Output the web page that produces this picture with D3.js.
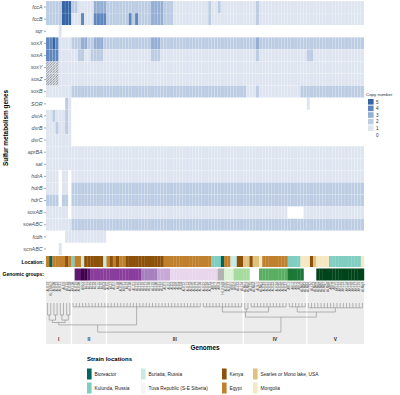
<!DOCTYPE html>
<html>
<head>
<meta charset="utf-8">
<script src="https://cdn.jsdelivr.net/npm/d3@7"></script>
<style>
body { margin: 0; background: #fff; }
svg { font-family: "Liberation Sans", Arial, sans-serif; }
</style>
</head>
<body>
<div id="chart"></div>
<script>
// genes on the y axis, top to bottom
var genes = ["fccA","fccB","sqr","soxX","soxA","soxY","soxZ","soxB","SOR","dsrA","dsrB",
  "dsrC","aprBA","sat","hdrA","hdrB","hdrC","soxAB","soeABC","fcdh","scnABC"];

// copy numbers, run-length [count, value], read left to right over the 100 genomes
var copyRuns = [
  [[5,2],[3,5],[2,2],[5,1],[4,3],[14,2],[4,3],[3,2],[11,1],[1,2],[2,1],[1,2],[11,1],[1,2],[33,1]],
  [[5,2],[3,5],[3,1],[1,4],[3,1],[4,4],[7,2],[1,4],[1,2],[1,4],[4,2],[4,3],[3,2],[11,1],[1,2],[14,1],[1,2],[33,1]],
  [[4,0],[1,1],[95,0]],
  [[2,4],[1,5],[1,4],[4,1],[3,2],[2,3],[2,2],[3,3],[15,2],[3,3],[30,2],[1,3],[33,2]],
  [[4,4],[6,1],[2,2],[2,1],[4,2],[15,1],[3,2],[30,1],[1,2],[15,1],[2,2],[16,1]],
  [[100,1]],
  [[100,1]],
  [[8,1],[55,2],[3,1],[1,2],[13,1],[20,2]],
  [[6,0],[1,2],[1,1],[74,0],[1,1],[17,0]],
  [[2,1],[1,2],[3,1],[1,2],[1,1],[92,0]],
  [[3,1],[1,2],[2,1],[1,2],[1,1],[92,0]],
  [[8,1],[92,0]],
  [[100,1]],
  [[100,1]],
  [[4,1],[1,0],[2,1],[1,0],[92,1]],
  [[4,1],[1,0],[2,1],[1,0],[92,2]],
  [[4,2],[1,0],[2,2],[1,0],[92,2]],
  [[7,1],[1,0],[68,1],[5,0],[19,1]],
  [[8,1],[92,2]],
  [[6,0],[13,1],[81,0]],
  [[4,0],[1,1],[95,0]]
];

// fused sox genes drawn hatched
var hatchGenes = ["soxY","soxZ"];
var hatchCols = [0,1,2,3];

var copyLevels = [5,4,3,2,1,0];
var copyColors = ["#3464a4","#5f87bd","#94afd3","#bccce3","#dfe5f0","#ffffff"];

var genomes = ["ALE19","HL-EbGr7","ALE20","ALE23","ALE21","ALE9","ALJ15","ALE28","AKL10","ALE16",
  "ALE30","ARh3","ALJ1","ALJ2","ALJ3","ALJ4","ALJ5","ALJ6","ARh4","ALE6",
  "ALJ7","ALE7","ALJ8","ALE10","ALE11","ALJ9","ALJ10","ALJ11","ALJ12","ALJ13",
  "ALJ16","ALJ17","ALJ18","ALJ19","ALJ20","ALJ21","ALJ22","ALE1","ALE2","ALE3",
  "ALE4","ALE5","ALE8","ALE12","ALE13","ALE14","ALE15","ALE17","ALE18","ALE22",
  "ALE24","ALE25","AKL6","AKL7","AKL8","HL-Eb18","ALE26","ALE27","ARh1","ARh2",
  "ALJ23","ALJ24","ALMo1","ALMo2","ALJ25","ALMo3","ALSr1","ALMg1","ALE29","ALE31",
  "ALE32","ALE33","ALE34","ALE35","ALE36","ALE37","AKL1","AKL2","AKL3","AKL4",
  "ALMg2","ALMg3","ALMg4","ALJ26","ALMo4","ALMg5","ALMg6","ALMg7","ALMg8","AKL5",
  "AKL9","AKL11","AKL12","AKL13","AKL14","AKL15","AKL16","AKL17","AKL19","ALMg9"];

// strain location of each genome
var locationCodes = ("EBEEEENEKE" + "EUNNNNNNUE" + "NENEENNNNN" + "NNNNNNNEEE" + "EEEEEEEEEE" +
  "EEKKKBEEUU" + "NNSSNSSMEE" + "EEEEEEKKKK" + "MMMNSMMMMK" + "KKKKKKKKKM").split("");
var locationKeys = ["B","K","U","T","N","E","S","M"];
var locationNames = ["Bioreactor","Kulunda, Russia","Buriatia, Russia","Tuva Republic (S-E Siberia)",
  "Kenya","Egypt","Searles or Mono lake, USA","Mongolia"];
var locationColors = ["#01665e","#80cdc1","#c7eae5","#f5f5f5","#8c510a","#bf812d","#dfc27d","#f6e8c3"];

// genomic group shade of each genome ("." = none)
var groupCodes = (".........b" + "baabcccccc" + "cccccccccc" + "dddddeeeef" + "ffffffffff" +
  "ffffgghhhi" + "iiii...jjj" + "jjjjjjkkkk" + "k....lllll" + "llllllllll").split("");
var groupShades = {a:"#40004b", b:"#5e1a70", c:"#8a3d9c", d:"#a680bd", e:"#c6a9d6", f:"#e8d6ec",
  g:"#b3b3b3", h:"#d9f0d3", i:"#a6dba0", j:"#5aae61", k:"#1b7837", l:"#00441b"};

// clade panels: first column of each clade
var cladeNames = ["I","II","III","IV","V"];
var cladeStarts = [0,8,19,62,82];

// dendrogram: leaves are genome columns, h is merge height
var tree = {h:0.97, c:[
  {h:0.73, c:[
    {h:0.65, c:[
      {h:0.57, c:[{h:0.4, c:[0,1]}, {h:0.4, c:[2,3]}]},
      {h:0.57, c:[{h:0.4, c:[4,5]}, {h:0.4, c:[6,7]}]}]},
    {h:0.13, c:d3.range(8,49)}]},
  {h:0.47, c:[
    {h:0.3, c:[{h:0.13, c:d3.range(49,62)}, {h:0.2, c:[62,63]}, {h:0.13, c:d3.range(64,76)}]},
    {h:0.3, c:[{h:0.13, c:d3.range(76,82)}, {h:0.16, c:d3.range(82,100)}]}]}
]};

var width = 400, height = 395;
var svg = d3.select("#chart").append("svg")
  .attr("width", width).attr("height", height);

var x = d3.scaleBand().domain(d3.range(genomes.length)).range([46, 364]);
var y = d3.scaleBand().domain(genes).range([1, 255]);
var color = d3.scaleOrdinal().domain(copyLevels).range(copyColors);
var locColor = d3.scaleOrdinal().domain(locationKeys).range(locationColors);

var defs = svg.append("defs");
var pat = defs.append("pattern").attr("id", "hatch")
  .attr("patternUnits", "userSpaceOnUse").attr("width", 1.8).attr("height", 1.8)
  .attr("patternTransform", "rotate(45)");
pat.append("rect").attr("width", 1.8).attr("height", 1.8).attr("fill", color(1));
pat.append("line").attr("x1", 0).attr("y1", 0).attr("x2", 0).attr("y2", 1.8)
  .attr("stroke", "#222").attr("stroke-width", 0.7);

// heatmap
var cells = [];
genes.forEach(function(g, i) {
  var col = 0;
  copyRuns[i].forEach(function(r) {
    for (var k = 0; k < r[0]; k++) { cells.push({gene: g, col: col, v: r[1]}); col++; }
  });
});

svg.append("g").selectAll("rect").data(cells).enter().append("rect")
  .attr("x", function(d) { return x(d.col); })
  .attr("y", function(d) { return y(d.gene); })
  .attr("width", x.bandwidth())
  .attr("height", y.bandwidth())
  .attr("fill", function(d) {
    if (hatchGenes.indexOf(d.gene) >= 0 && hatchCols.indexOf(d.col) >= 0) return "url(#hatch)";
    return color(d.v);
  })
  .attr("stroke", "#fff").attr("stroke-opacity", 0.35).attr("stroke-width", 0.3);

// gene axis
var yAxis = svg.append("g").attr("transform", "translate(46,0)")
  .call(d3.axisLeft(y).tickSize(2).tickPadding(1.5));
yAxis.select(".domain").remove();
yAxis.selectAll("line").attr("stroke", "#555").attr("stroke-width", 0.5);
yAxis.selectAll("text").attr("font-size", 5.3).attr("font-style", "italic")
  .attr("fill", "#4d4d4d").attr("font-family", "Liberation Sans, Arial, sans-serif");

svg.append("text").attr("transform", "translate(8,128) rotate(-90)")
  .attr("text-anchor", "middle").attr("font-size", 6.4).attr("font-weight", "bold")
  .text("Sulfur metabolism genes");

// location and genomic group rows
svg.append("g").selectAll("rect").data(locationCodes).enter().append("rect")
  .attr("x", function(d, i) { return x(i); }).attr("y", 256)
  .attr("width", x.bandwidth() + 0.2).attr("height", 11)
  .attr("fill", function(d) { return locColor(d); });

svg.append("g").selectAll("rect").data(groupCodes.map(function(c, i) { return {c: c, i: i}; })
    .filter(function(d) { return d.c !== "."; }))
  .enter().append("rect")
  .attr("x", function(d) { return x(d.i); }).attr("y", 268.5)
  .attr("width", x.bandwidth() + 0.2).attr("height", 12)
  .attr("fill", function(d) { return groupShades[d.c]; });

svg.append("text").attr("x", 44).attr("y", 263.5).attr("text-anchor", "end")
  .attr("font-size", 5).attr("font-weight", "bold").text("Location:");
svg.append("text").attr("x", 44).attr("y", 276).attr("text-anchor", "end")
  .attr("font-size", 5).attr("font-weight", "bold").text("Genomic groups:");

// clade panels
var cladeEnds = cladeStarts.slice(1).concat([genomes.length]);
var panelTop = 281, panelBottom = 344;
svg.append("g").selectAll("rect").data(cladeNames).enter().append("rect")
  .attr("x", function(d, i) { return x(cladeStarts[i]) + (i ? 0.7 : 0); })
  .attr("y", panelTop)
  .attr("width", function(d, i) {
    var x1 = cladeEnds[i] < genomes.length ? x(cladeEnds[i]) - 0.7 : x.range()[1];
    return x1 - x(cladeStarts[i]) - (i ? 0.7 : 0);
  })
  .attr("height", panelBottom - panelTop)
  .attr("fill", "#ececec");

svg.append("g").selectAll("text").data(cladeNames).enter().append("text")
  .attr("x", function(d, i) {
    var x1 = cladeEnds[i] < genomes.length ? x(cladeEnds[i]) : x.range()[1];
    return (x(cladeStarts[i]) + x1) / 2;
  })
  .attr("y", 341).attr("text-anchor", "middle")
  .attr("font-size", 4.8).attr("font-weight", "bold").attr("fill", "#333")
  .text(function(d) { return d; });

// genome labels
svg.append("g").selectAll("text").data(genomes).enter().append("text")
  .attr("transform", function(d, i) {
    return "translate(" + (x(i) + x.bandwidth() / 2 + 1.1) + ",282) rotate(-90)";
  })
  .attr("text-anchor", "end").attr("font-size", 3.2).attr("fill", "#4d4d4d")
  .text(function(d) { return d; });

// dendrogram
var hy = d3.scaleLinear().domain([0, 1]).range([303, 333]);
var links = [];
function place(node) {
  if (typeof node === "number") return {x: x(node) + x.bandwidth() / 2, h: 0};
  var kids = node.c.map(place);
  var nx = (kids[0].x + kids[kids.length - 1].x) / 2;
  links.push([kids[0].x, hy(node.h), kids[kids.length - 1].x, hy(node.h)]);
  kids.forEach(function(k) { links.push([k.x, hy(k.h), k.x, hy(node.h)]); });
  return {x: nx, h: node.h};
}
place(tree);
svg.append("g").selectAll("line").data(links).enter().append("line")
  .attr("x1", function(d) { return d[0]; }).attr("y1", function(d) { return d[1]; })
  .attr("x2", function(d) { return d[2]; }).attr("y2", function(d) { return d[3]; })
  .attr("stroke", "#8a8a8a").attr("stroke-width", 0.6);

svg.append("text").attr("x", 205).attr("y", 350).attr("text-anchor", "middle")
  .attr("font-size", 6.4).attr("font-weight", "bold").text("Genomes");

// copy number legend
var cl = svg.append("g").attr("transform", "translate(366,96)");
cl.append("text").attr("x", 0).attr("y", 0).attr("font-size", 4.4).attr("fill", "#333")
  .text("Copy number");
cl.selectAll("rect").data(copyLevels).enter().append("rect")
  .attr("x", 2).attr("y", function(d, i) { return 3 + i * 6.6; })
  .attr("width", 5.6).attr("height", 5.6)
  .attr("fill", function(d) { return color(d); });
cl.selectAll("text.k").data(copyLevels).enter().append("text").attr("class", "k")
  .attr("x", 10).attr("y", function(d, i) { return 7.6 + i * 6.6; })
  .attr("font-size", 4.6).attr("fill", "#333").text(function(d) { return d; });

// strain location legend
var lg = svg.append("g");
lg.append("text").attr("x", 87).attr("y", 361).attr("font-size", 6)
  .attr("font-weight", "bold").text("Strain locations");
var legCols = [87, 141, 222, 253];
var item = lg.selectAll("g.item").data(locationNames).enter().append("g").attr("class", "item")
  .attr("transform", function(d, i) {
    return "translate(" + legCols[Math.floor(i / 2)] + "," + (368.5 + (i % 2) * 14) + ")";
  });
item.append("rect").attr("width", 4.6).attr("height", 11)
  .attr("fill", function(d, i) { return locationColors[i]; });
item.append("text").attr("x", 7.5).attr("y", 7.3).attr("font-size", 4.8).attr("fill", "#222")
  .text(function(d) { return d; });
</script>
</body>
</html>
